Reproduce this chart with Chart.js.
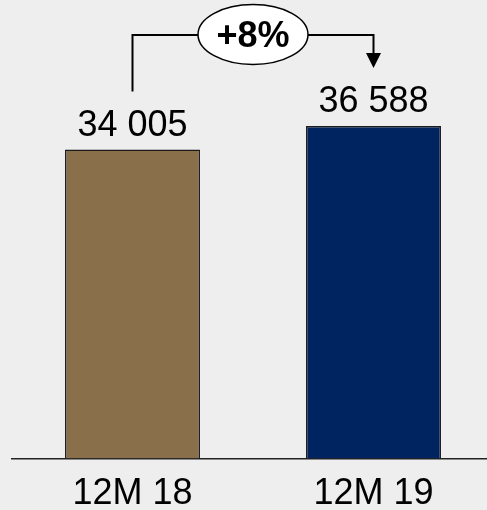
<!DOCTYPE html>
<html>
<head>
<meta charset="utf-8">
<script src="https://cdn.jsdelivr.net/npm/chart.js@4.4.1/dist/chart.umd.min.js"></script>
<style>
  html, body { margin: 0; padding: 0; background: #eeeeee; overflow: hidden; width: 487px; height: 510px; }
  #wrap { position: absolute; left: 0; top: 0; width: 494px; height: 529px; }
</style>
</head>
<body>
<div id="wrap"><canvas id="c" width="494" height="529"></canvas></div>
<script>
const categories = ['12M 18', '12M 19'];
const values = [34005, 36588];
const barColors = ['#8a704a', '#002460'];

function fmt(v) {
  return String(v).replace(/\B(?=(\d{3})+(?!\d))/g, ' ');
}
const FONT = '"Liberation Sans", Arial, sans-serif';

const annotatePlugin = {
  id: 'annotate',
  afterDatasetsDraw(chart) {
    const ctx = chart.ctx;
    const meta = chart.getDatasetMeta(0);
    const bars = meta.data;
    ctx.save();
    // value labels
    ctx.font = '36px ' + FONT;
    ctx.fillStyle = '#000';
    ctx.textAlign = 'center';
    ctx.textBaseline = 'alphabetic';
    bars.forEach((b, i) => {
      ctx.fillText(fmt(values[i]), b.x, b.y - 13.5);
    });
    // connector
    const b1 = bars[0], b2 = bars[1];
    const lineY = 35;
    const startY = b1.y - 58;
    const tipY = b2.y - 58;
    ctx.strokeStyle = '#000';
    ctx.lineWidth = 2;
    ctx.beginPath();
    ctx.moveTo(b1.x, startY);
    ctx.lineTo(b1.x, lineY);
    ctx.lineTo(b2.x, lineY);
    ctx.lineTo(b2.x, tipY - 14);
    ctx.stroke();
    ctx.fillStyle = '#000';
    ctx.beginPath();
    ctx.moveTo(b2.x - 7.5, tipY - 15);
    ctx.lineTo(b2.x + 7.5, tipY - 15);
    ctx.lineTo(b2.x, tipY);
    ctx.closePath();
    ctx.fill();
    // ellipse with growth
    const cx = (b1.x + b2.x) / 2;
    ctx.beginPath();
    ctx.ellipse(cx, 34.5, 55, 30, 0, 0, Math.PI * 2);
    ctx.fillStyle = '#ffffff';
    ctx.fill();
    ctx.lineWidth = 1.5;
    ctx.strokeStyle = '#000';
    ctx.stroke();
    const growth = Math.round((values[1] / values[0] - 1) * 100);
    ctx.fillStyle = '#000';
    ctx.font = 'bold 36px ' + FONT;
    ctx.textBaseline = 'alphabetic';
    ctx.fillText((growth >= 0 ? '+' : '') + growth + '%', cx, 47);
    ctx.restore();
  }
};

new Chart(document.getElementById('c'), {
  type: 'bar',
  data: {
    labels: categories,
    datasets: [{
      data: values,
      backgroundColor: barColors,
      borderColor: '#1a1a1a',
      borderWidth: 1.5,
      borderSkipped: 'bottom',
      barPercentage: 0.56,
      categoryPercentage: 1
    }]
  },
  options: {
    responsive: false,
    animation: false,
    devicePixelRatio: 1,
    layout: { padding: { left: 12, right: 0, top: 4, bottom: 0 } },
    plugins: { legend: { display: false }, tooltip: { enabled: false } },
    scales: {
      y: { display: false, min: 0, max: 50000 },
      x: {
        offset: true,
        grid: { display: false, drawTicks: false },
        border: { display: true, color: '#222', width: 1.5 },
        ticks: {
          color: '#000',
          padding: 19,
          font: { family: FONT, size: 36, lineHeight: 0.9 }
        }
      }
    }
  },
  plugins: [annotatePlugin]
});
</script>
</body>
</html>
